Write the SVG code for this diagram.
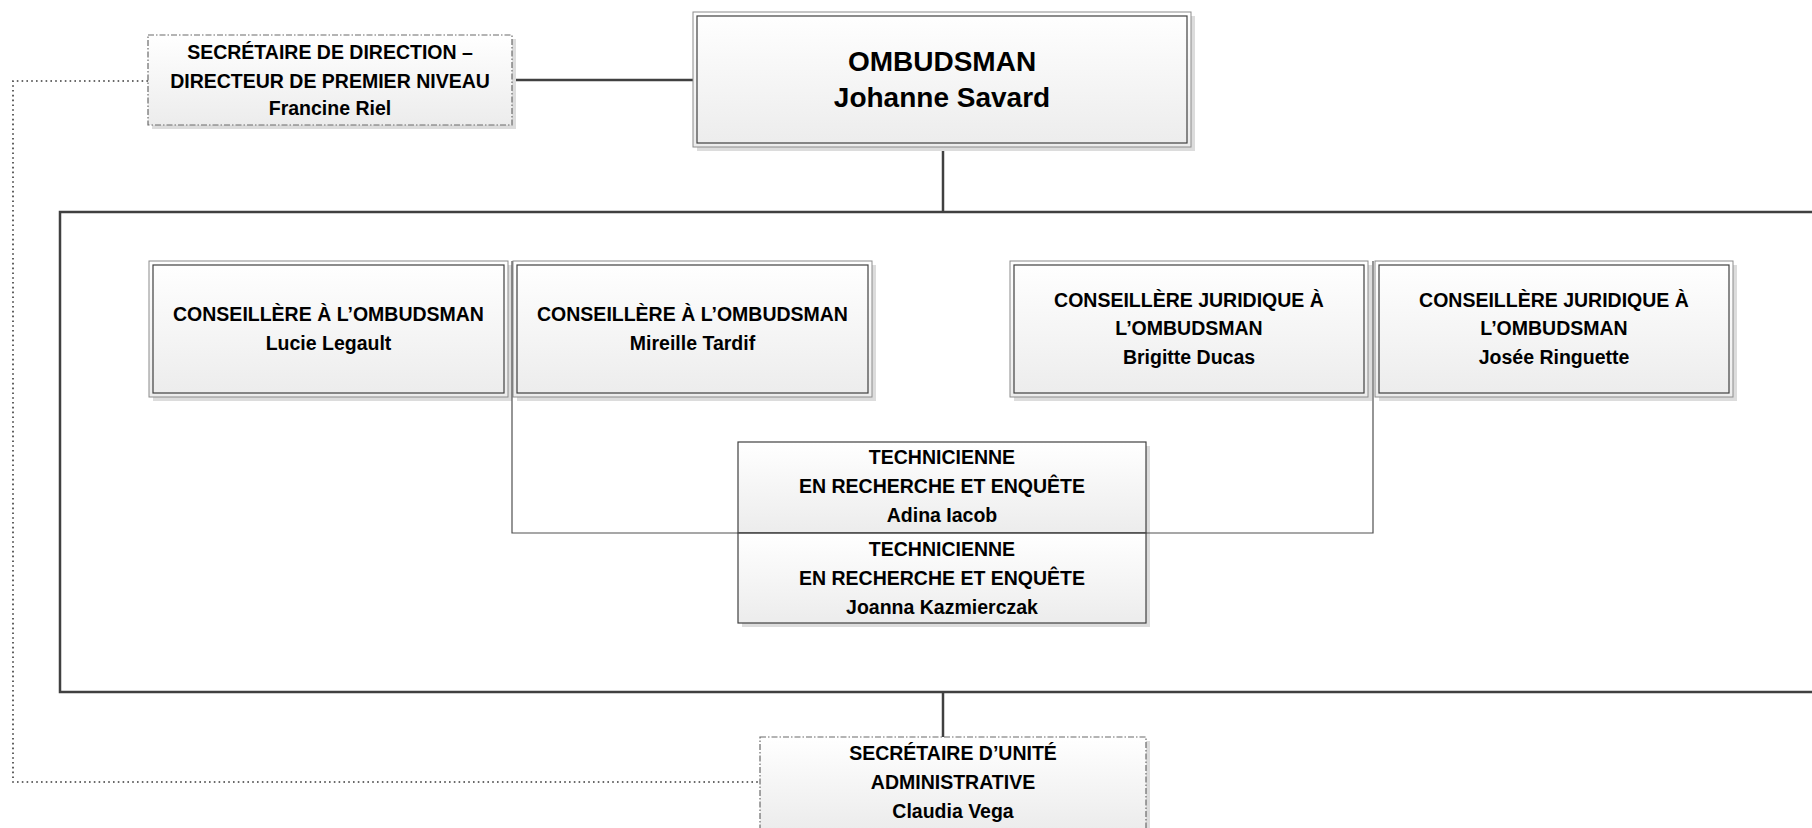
<svg xmlns="http://www.w3.org/2000/svg" width="1812" height="828" viewBox="0 0 1812 828">
<defs>
<linearGradient id="g" x1="0" y1="0" x2="0" y2="1">
<stop offset="0" stop-color="#ffffff"/>
<stop offset="1" stop-color="#ececec"/>
</linearGradient>
<style>
text{font-family:"Liberation Sans",Arial,sans-serif;font-weight:bold;fill:#000;text-anchor:middle;font-size:19.5px}
.big{font-size:28px}
.shadow{fill:#dcdcdc}
.outer{fill:url(#g);stroke:#8c8c8c;stroke-width:1}
.inner{fill:none;stroke:#404040;stroke-width:1.2}
.single{fill:url(#g);stroke:#404040;stroke-width:1.2}
.dashed{fill:url(#g);stroke:#6a6a6a;stroke-width:1.2;stroke-dasharray:6 2 1.5 2}
.conn{fill:none;stroke:#404040;stroke-width:2.5}
.thin{fill:none;stroke:#505050;stroke-width:1.2}
.dot{fill:none;stroke:#3a3a3a;stroke-width:1.6;stroke-dasharray:1.6 3.2}
</style>
</defs>
<rect width="1812" height="828" fill="#fff"/>

<g id="connectors">
<line class="conn" x1="512" y1="80" x2="693" y2="80"/>
<line class="conn" x1="943" y1="147" x2="943" y2="212"/>
<path class="conn" d="M1815,212 H60 V692 H1815"/>
<line class="conn" x1="943" y1="692" x2="943" y2="737"/>
<path class="dot" d="M148,81 H13 V782 H760"/>
</g>

<g id="ombudsman">
<rect class="shadow" x="697" y="16" width="498" height="135"/>
<rect class="outer" x="693" y="12" width="498" height="135"/>
<rect class="inner" x="697" y="16" width="490" height="127"/>
<text class="big" x="942" y="71">OMBUDSMAN</text>
<text class="big" x="942" y="107">Johanne Savard</text>
</g>

<g id="secretaire-direction">
<rect class="shadow" x="152" y="39" width="364" height="90"/>
<rect class="dashed" x="148" y="35" width="364" height="90"/>
<text x="330" y="59">SECRÉTAIRE DE DIRECTION –</text>
<text x="330" y="88">DIRECTEUR DE PREMIER NIVEAU</text>
<text x="330" y="115">Francine Riel</text>
</g>

<g id="conseillere-legault">
<rect class="shadow" x="153" y="265" width="359" height="136"/>
<rect class="outer" x="149" y="261" width="359" height="136"/>
<rect class="inner" x="153" y="265" width="351" height="128"/>
<text x="328.5" y="321">CONSEILLÈRE À L’OMBUDSMAN</text>
<text x="328.5" y="350">Lucie Legault</text>
</g>

<g id="conseillere-tardif">
<rect class="shadow" x="517" y="265" width="359" height="136"/>
<rect class="outer" x="513" y="261" width="359" height="136"/>
<rect class="inner" x="517" y="265" width="351" height="128"/>
<text x="692.5" y="321">CONSEILLÈRE À L’OMBUDSMAN</text>
<text x="692.5" y="350">Mireille Tardif</text>
</g>

<g id="juridique-ducas">
<rect class="shadow" x="1014" y="265" width="358" height="136"/>
<rect class="outer" x="1010" y="261" width="358" height="136"/>
<rect class="inner" x="1014" y="265" width="350" height="128"/>
<text x="1189" y="307">CONSEILLÈRE JURIDIQUE À</text>
<text x="1189" y="335">L’OMBUDSMAN</text>
<text x="1189" y="364">Brigitte Ducas</text>
</g>

<g id="juridique-ringuette">
<rect class="shadow" x="1379" y="265" width="358" height="136"/>
<rect class="outer" x="1375" y="261" width="358" height="136"/>
<rect class="inner" x="1379" y="265" width="350" height="128"/>
<text x="1554" y="307">CONSEILLÈRE JURIDIQUE À</text>
<text x="1554" y="335">L’OMBUDSMAN</text>
<text x="1554" y="364">Josée Ringuette</text>
</g>

<g id="technicienne-iacob">
<rect class="shadow" x="742" y="446" width="408" height="91"/>
<rect class="single" x="738" y="442" width="408" height="91"/>
<text x="942" y="464">TECHNICIENNE</text>
<text x="942" y="493">EN RECHERCHE ET ENQUÊTE</text>
<text x="942" y="522">Adina Iacob</text>
</g>

<g id="technicienne-kazmierczak">
<rect class="shadow" x="742" y="537" width="408" height="90"/>
<rect class="single" x="738" y="533" width="408" height="90"/>
<text x="942" y="556">TECHNICIENNE</text>
<text x="942" y="585">EN RECHERCHE ET ENQUÊTE</text>
<text x="942" y="614">Joanna Kazmierczak</text>
</g>

<g id="connectors-thin">
<path class="thin" d="M512,261 V533 H1373 V261"/>
</g>

<g id="secretaire-unite">
<rect class="shadow" x="764" y="741" width="386" height="92"/>
<rect class="dashed" x="760" y="737" width="386" height="92"/>
<text x="953" y="760">SECRÉTAIRE D’UNITÉ</text>
<text x="953" y="789">ADMINISTRATIVE</text>
<text x="953" y="818">Claudia Vega</text>
</g>
</svg>
